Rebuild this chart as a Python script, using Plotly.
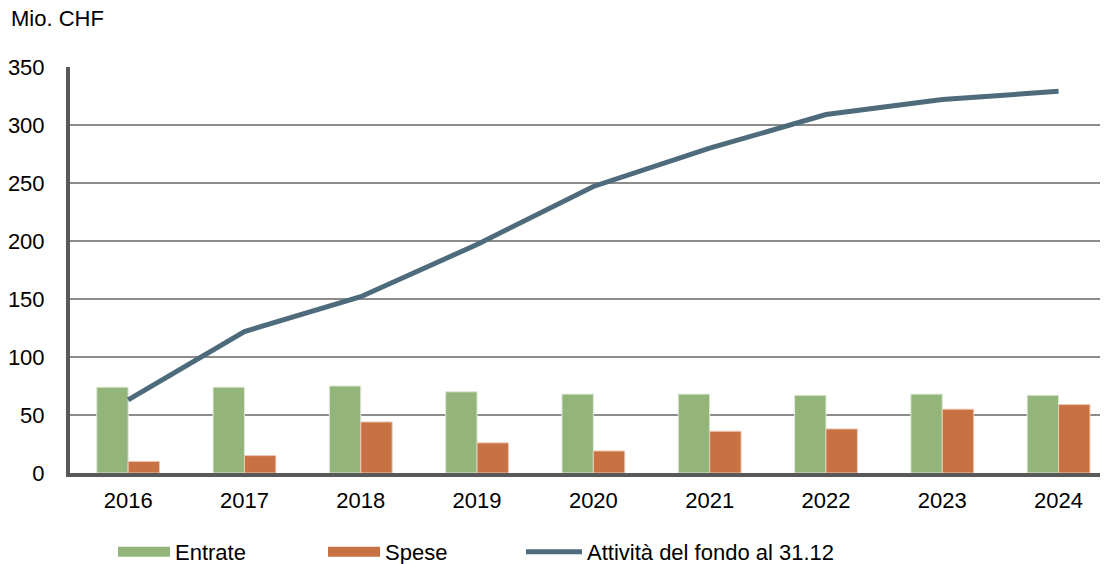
import plotly.graph_objects as go

years = ["2016", "2017", "2018", "2019", "2020", "2021", "2022", "2023", "2024"]
entrate = [74, 74, 75, 70, 68, 68, 67, 68, 67]
spese = [10, 15, 44, 26, 19, 36, 38, 55, 59]
attivita = [63, 122, 152, 197, 247, 280, 309, 322, 329]
y_ticks = [0, 50, 100, 150, 200, 250, 300, 350]

GREEN = "#93b57a"
ORANGE = "#c87243"
BLUE = "#4e6b7c"

font = dict(family="Liberation Sans, Arial, sans-serif", size=22, color="#000000")

W, H = 1100, 556
L, T, B = 54, 59, 91
plot_w = W - L
plot_h = H - T - B
cat_px = 117.2

fig = go.Figure()
fig.add_trace(go.Bar(x=years, y=entrate, name="Entrate", showlegend=False,
                     marker=dict(color=GREEN, line=dict(color="#dfe9d6", width=1))))
fig.add_trace(go.Bar(x=years, y=spese, name="Spese", showlegend=False,
                     marker=dict(color=ORANGE, line=dict(color="#ecc9b4", width=1))))
fig.add_trace(go.Scatter(x=years, y=attivita, name="Attività del fondo al 31.12",
                         mode="lines", line=dict(color=BLUE, width=5), showlegend=False))
# legend-only entries
fig.add_trace(go.Scatter(x=[None], y=[None], name="Entrate", mode="lines",
                         line=dict(color=GREEN, width=15), legend="legend"))
fig.add_trace(go.Scatter(x=[None], y=[None], name="Spese", mode="lines",
                         line=dict(color=ORANGE, width=15), legend="legend2"))
fig.add_trace(go.Scatter(x=[None], y=[None], name="Attività del fondo al 31.12",
                         mode="lines", line=dict(color=BLUE, width=5), legend="legend3"))

def leg(xpx, iw):
    return dict(orientation="h", xref="container", yref="container",
                x=xpx / W, y=1 - 544 / H, xanchor="left", yanchor="middle",
                font=font, itemwidth=iw, bgcolor="rgba(0,0,0,0)")

fig.update_layout(
    width=W, height=H,
    margin=dict(l=L, r=0, t=T, b=B, pad=0),
    plot_bgcolor="white", paper_bgcolor="white",
    font=font,
    barmode="group", bargap=0.46, bargroupgap=0,
    showlegend=True,
    legend=leg(105, 52),
    legend2=leg(315, 52),
    legend3=leg(513, 56),
    title=dict(text="Mio. CHF", xref="container", yref="container",
               x=3 / W, y=1 - 10 / H, xanchor="left", yanchor="middle",
               pad=dict(l=0, r=0, t=0, b=0), font=font),
)
fig.update_xaxes(range=[-0.5, -0.5 + plot_w / cat_px], showgrid=False, showline=True,
                 linecolor="#595959", linewidth=4, ticks="", tickfont=font,
                 zeroline=False, fixedrange=True, ticklabelstandoff=5)
fig.update_yaxes(range=[0, 350], tickvals=y_ticks, showgrid=True,
                 gridcolor="#8c8c8c", gridwidth=2, showline=True,
                 linecolor="#595959", linewidth=4, ticks="", tickfont=font,
                 zeroline=False, ticklabelstandoff=17, fixedrange=True)

fig.write_html("out.html")
